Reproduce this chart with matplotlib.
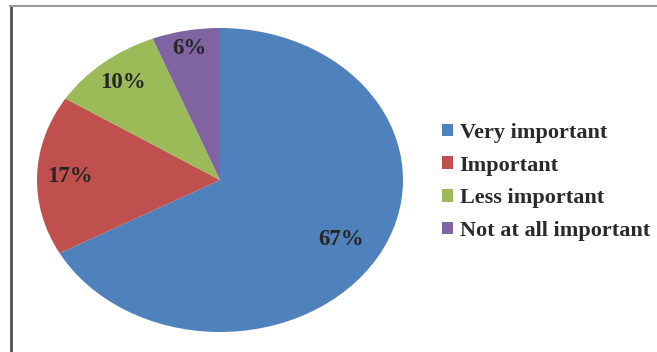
import numpy as np
import matplotlib
matplotlib.use("Agg")
import matplotlib.pyplot as plt
from matplotlib.lines import Line2D
from matplotlib.patches import Patch

categories = ["Very important", "Important", "Less important", "Not at all important"]
shares = [67, 17, 10, 6]
colors = ["#4F81BD", "#C0504D", "#9BBB59", "#8064A2"]
# radial position of each percentage label (fraction of the radius)
label_radius = [0.77, 0.82, 0.83, 0.88]

W, H = 657, 352
fig = plt.figure(figsize=(W / 100, H / 100), dpi=100)
fig.patch.set_facecolor("white")

# pie area in pixels: left, bottom, width, height
px_left, px_bottom, px_w, px_h = 37, 20, 366, 304
ax = fig.add_axes([px_left / W, px_bottom / H, px_w / W, px_h / H])

wedges, _ = ax.pie(shares, colors=colors, startangle=90, counterclock=False,
                   radius=1.0, wedgeprops=dict(linewidth=0))
ax.set_aspect("auto")
ax.set_xlim(-1, 1)
ax.set_ylim(-1, 1)
ax.axis("off")

font = "Liberation Serif"
for w, v, r in zip(wedges, shares, label_radius):
    mid = np.deg2rad((w.theta1 + w.theta2) / 2)
    ax.text(r * np.cos(mid), r * np.sin(mid), f"{v}%", ha="center", va="center",
            fontsize=16.5, family=font, weight="bold", color="#262626")

handles = [Patch(facecolor=c, edgecolor="none") for c in colors]
fig.legend(handles, categories, loc="upper left",
           bbox_to_anchor=(433 / W, 1 - 114 / H), frameon=False,
           prop=dict(family=font, size=16, weight="bold"), labelcolor="#2a2a2a",
           handlelength=0.5, handleheight=0.5,
           handletextpad=0.3, labelspacing=0.57, borderaxespad=0)

# chart frame: left and top border lines
fig.add_artist(Line2D([11 / W, 11 / W], [0, 1 - 6 / H], color="#505050", lw=2,
                      transform=fig.transFigure))
fig.add_artist(Line2D([10 / W, 1], [1 - 6 / H, 1 - 6 / H], color="#9a9a9a", lw=1.5,
                      transform=fig.transFigure))

fig.savefig("out.png", dpi=100, facecolor="white")
